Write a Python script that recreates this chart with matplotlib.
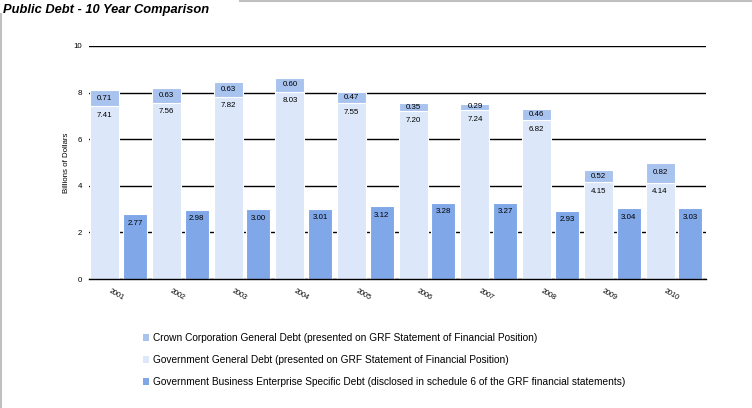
import numpy as np
import matplotlib
matplotlib.use("Agg")
import matplotlib.pyplot as plt
from matplotlib.lines import Line2D

plt.rcParams['font.family'] = ['Liberation Sans', 'DejaVu Sans']

# data (billions of dollars)
years = ['2001', '2002', '2003', '2004', '2005', '2006', '2007', '2008', '2009', '2010']
gov_general = [7.41, 7.56, 7.82, 8.03, 7.55, 7.20, 7.24, 6.82, 4.15, 4.14]
crown_corp = [0.71, 0.63, 0.63, 0.60, 0.47, 0.35, 0.29, 0.46, 0.52, 0.82]
gbe_debt = [2.77, 2.98, 3.00, 3.01, 3.12, 3.28, 3.27, 2.93, 3.04, 3.03]

crown_lbl = 'Crown Corporation General Debt (presented on GRF Statement of Financial Position)'
gov_lbl = 'Government General Debt (presented on GRF Statement of Financial Position)'
gbe_lbl = 'Government Business Enterprise Specific Debt (disclosed in schedule 6 of the GRF financial statements)'

c_crown = '#a9c3ef'
c_gov = '#dce7f9'
c_gbe = '#80a7e8'

fig = plt.figure(figsize=(7.52, 4.08), dpi=100)
ax = fig.add_axes([89/752, 1-279/408, 617/752, 233/408])

x = np.arange(len(years))
w1, w2 = 0.47, 0.39
x1 = x + 0.02
x2 = x + 0.55

b_gov = ax.bar(x1, gov_general, w1, align='edge', color=c_gov, edgecolor='white', linewidth=0.8, zorder=3)
b_crown = ax.bar(x1, crown_corp, w1, bottom=gov_general, align='edge', color=c_crown,
                 edgecolor='white', linewidth=0.8, zorder=3)
b_gbe = ax.bar(x2, gbe_debt, w2, align='edge', color=c_gbe, edgecolor='white', linewidth=0.8, zorder=3)

lfs = 5.7
for i in range(len(years)):
    top = gov_general[i]
    ax.annotate('%.2f' % gov_general[i], (x1[i] + w1/2, top), xytext=(0, -6.5),
                textcoords='offset points', ha='center', va='center', fontsize=lfs, zorder=5)
    ax.text(x1[i] + w1/2, top + crown_corp[i]/2, '%.2f' % crown_corp[i],
            ha='center', va='center', fontsize=lfs, zorder=5)
    ax.annotate('%.2f' % gbe_debt[i], (x2[i] + w2/2, gbe_debt[i]), xytext=(0, -6.5),
                textcoords='offset points', ha='center', va='center', fontsize=lfs, zorder=5)

ax.set_xlim(0, 10)
ax.set_ylim(0, 10)
ax.set_yticks([0, 2, 4, 6, 8, 10])
ax.yaxis.grid(True, color='black', linewidth=1)
ax.set_axisbelow(True)
ax.set_xticks(x + 0.44)
ax.set_xticklabels(years, rotation=-30, fontsize=5.2)
ax.tick_params(axis='x', length=0, pad=6)
ax.tick_params(axis='y', length=0, pad=5, labelsize=5.7)
for s in ['top', 'right', 'left']:
    ax.spines[s].set_visible(False)
ax.spines['bottom'].set_linewidth(1)
ax.spines['bottom'].set_zorder(4)
ax.set_ylabel('Billions of Dollars', fontsize=5.7, labelpad=2.5)

fig.text(3/752, 1-10/408, 'Public Debt - 10 Year Comparison', fontsize=9.3,
         fontweight='bold', fontstyle='italic', va='center', ha='left')

# frame lines
fig.add_artist(Line2D([0.5/752, 0.5/752], [0, 1-14/408], color='#c0c0c0', linewidth=1.5))
fig.add_artist(Line2D([240/752, 1], [1-0.5/408, 1-0.5/408], color='#c0c0c0', linewidth=1.5))

leg = fig.legend([b_crown, b_gov, b_gbe], [crown_lbl, gov_lbl, gbe_lbl],
                 loc='upper left', bbox_to_anchor=(143/752, 1-333/408), frameon=False,
                 fontsize=7.25, handlelength=0.6, handleheight=0.6, handletextpad=0.35,
                 labelspacing=1.2, borderpad=0, borderaxespad=0)
for h in leg.legend_handles:
    h.set_edgecolor('none')

fig.savefig('out.png', dpi=100)
